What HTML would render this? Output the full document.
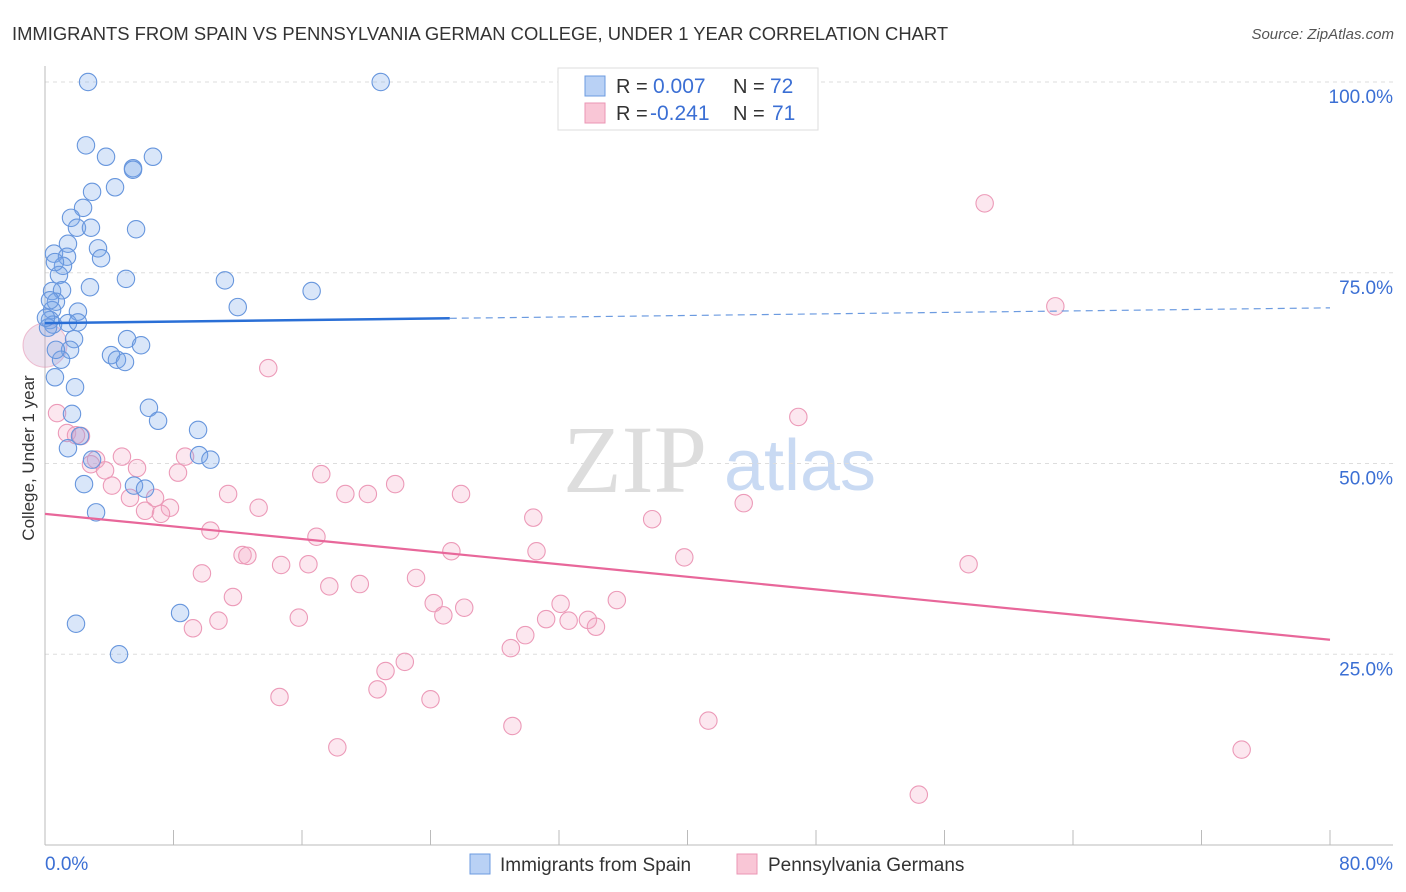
<!DOCTYPE html>
<html><head><meta charset="utf-8"><style>
body{margin:0;background:#fff;font-family:"Liberation Sans",sans-serif;}
</style></head><body>
<svg id="chart" width="1406" height="892" style="display:block">
<text x="12" y="40" font-size="18.4" fill="#333">IMMIGRANTS FROM SPAIN VS PENNSYLVANIA GERMAN COLLEGE, UNDER 1 YEAR CORRELATION CHART</text>
<text x="1394" y="39" font-size="15" fill="#555" font-style="italic" text-anchor="end">Source: ZipAtlas.com</text>
<text x="34" y="458" font-size="17" fill="#333" transform="rotate(-90 34 458)" text-anchor="middle">College, Under 1 year</text>
<g>
<text x="635" y="492" font-size="96" fill="#ddd" font-family="Liberation Serif,serif" text-anchor="middle">ZIP</text>
<text x="800" y="490" font-size="72" fill="#c9daf3" text-anchor="middle">atlas</text>
</g>
<g id="grid"></g><g id="marks"></g><g id="lines"></g>
<g>
<rect x="558" y="68" width="260" height="62" fill="#fff" stroke="#ddd"/>
<rect x="585" y="76" width="20" height="20" fill="#b9d1f5" stroke="#6c9be0"/>
<rect x="585" y="103" width="20" height="20" fill="#f9c6d6" stroke="#eb96b4"/>
<text x="616" y="93" font-size="20" fill="#333">R =</text>
<text x="653" y="93" font-size="21" fill="#3b6fd4">0.007</text>
<text x="733" y="93" font-size="20" fill="#333">N =</text>
<text x="770" y="93" font-size="21" fill="#3b6fd4">72</text>
<text x="616" y="120" font-size="20" fill="#333">R =</text>
<text x="650" y="120" font-size="21" fill="#3b6fd4">-0.241</text>
<text x="733" y="120" font-size="20" fill="#333">N =</text>
<text x="772" y="120" font-size="21" fill="#3b6fd4">71</text>
</g>
<g>
<rect x="470" y="854" width="20" height="20" fill="#b9d1f5" stroke="#6c9be0"/>
<text x="500" y="871" font-size="19" fill="#333">Immigrants from Spain</text>
<rect x="737" y="854" width="20" height="20" fill="#f9c6d6" stroke="#eb96b4"/>
<text x="768" y="871" font-size="19" fill="#333">Pennsylvania Germans</text>
</g>
</svg>
<script>
const blueX=[2.68,20.9,2.55,3.8,6.72,5.48,5.48,4.36,2.93,2.37,1.62,1.99,2.86,5.67,1.43,3.3,0.56,1.37,3.49,1.12,0.87,5.04,11.2,2.8,0.44,1.06,16.6,0.68,12.0,2.05,0.44,0.31,0.5,1.43,2.05,0.19,5.11,1.81,5.98,1.56,4.11,4.48,4.98,1.0,0.62,1.87,6.47,7.04,1.68,9.53,2.18,1.43,9.59,10.3,2.93,2.43,5.54,6.23,3.18,8.41,1.93,4.61,0.31,0.62,0.68,0.06];
const blueY=[100,100,91.7,90.2,90.2,88.7,88.5,86.2,85.6,83.5,82.2,80.9,80.9,80.7,78.8,78.2,77.5,77.1,76.9,75.9,74.7,74.2,74.0,73.1,72.6,72.7,72.6,71.2,70.5,69.9,70.1,68.8,68.2,68.4,68.5,67.8,66.3,66.3,65.5,64.9,64.2,63.6,63.3,63.6,61.3,60.0,57.3,55.6,56.5,54.4,53.6,52.0,51.1,50.5,50.5,47.3,47.1,46.7,43.6,30.4,29.0,25.0,71.4,76.4,64.9,69.1];
const pinkX=[0.75,1.37,2.24,1.93,4.79,3.18,2.86,3.74,5.73,8.72,8.28,4.17,5.29,6.85,7.78,6.23,7.22,11.4,13.3,10.3,17.2,13.9,18.7,20.1,21.8,25.9,30.4,30.6,25.3,16.9,12.3,12.6,9.77,11.7,14.7,16.4,17.7,19.6,23.1,24.2,24.8,26.1,15.8,10.8,9.21,29.9,29.0,31.2,32.1,32.6,33.8,34.3,35.6,22.4,21.2,20.7,14.6,24.0,29.1,18.2,41.3,37.8,39.8,43.5,46.9,57.5,58.5,62.9,54.4,74.5];
const pinkY=[56.6,54.0,53.6,53.7,50.9,50.5,49.9,49.1,49.4,50.9,48.8,47.1,45.5,45.5,44.2,43.8,43.4,46.0,44.2,41.2,48.6,62.5,46.0,46.0,47.3,46.0,42.9,38.5,38.5,40.4,38.0,37.9,35.6,32.5,36.7,36.8,33.9,34.2,35.0,31.7,30.1,31.1,29.8,29.4,28.4,27.5,25.8,29.6,31.6,29.4,29.5,28.6,32.1,24.0,22.8,20.4,19.4,19.1,15.6,12.8,16.3,42.7,37.7,44.8,56.1,36.8,84.1,70.6,6.6,12.5];
const blueTrend=[68.4,70.4];
const pinkTrend=[43.4,26.9];
const yTicks=[25,50,75,100];
const xTicks=[0,8,16,24,32,40,48,56,64,72,80];
const NS='http://www.w3.org/2000/svg';
const sx=v=>45+v/80*1285, sy=v=>845-v/100*763;
function mk(tag,attrs,parent){const e=document.createElementNS(NS,tag);for(const k in attrs)e.setAttribute(k,attrs[k]);parent.appendChild(e);return e;}
const grid=document.getElementById('grid'),marks=document.getElementById('marks'),lines=document.getElementById('lines');
yTicks.forEach(t=>{
 const l=mk('line',{x1:45,x2:1393,y1:sy(t),y2:sy(t),stroke:'#ddd','stroke-dasharray':'4 4'},grid);
 
 
 const tx=mk('text',{x:1393,y:sy(t)+21,'font-size':19,fill:'#3b6fd4','text-anchor':'end'},grid);tx.textContent=t.toFixed(1)+'%';
 
 
});
const ax=mk('line',{x1:45,x2:1393,y1:845,y2:845,stroke:'#bbb'},grid);


const ay=mk('line',{x1:45,x2:45,y1:66,y2:845,stroke:'#bbb'},grid);


xTicks.forEach(t=>{if(t>0){const tk=mk('line',{x1:sx(t),x2:sx(t),y1:830,y2:845,stroke:'#bbb'},grid);
 
 }});
const xl0=mk('text',{x:45,y:870,'font-size':19,fill:'#3b6fd4'},grid);xl0.textContent='0.0%';


const xl1=mk('text',{x:1393,y:870,'font-size':19,fill:'#3b6fd4','text-anchor':'end'},grid);xl1.textContent='80.0%';


const big=mk('circle',{cx:sx(0),cy:sy(65.5),r:22,fill:'rgba(200,160,200,0.3)',stroke:'rgba(230,150,180,0.6)'},marks);


pinkX.forEach((x,i)=>{const c=mk('circle',{cx:sx(x),cy:sy(pinkY[i]),r:8.7,fill:'rgba(246,170,196,0.28)',stroke:'#ec9ab8','stroke-width':1.1},marks);
 
 });
blueX.forEach((x,i)=>{const c=mk('circle',{cx:sx(x),cy:sy(blueY[i]),r:8.7,fill:'rgba(120,165,235,0.28)',stroke:'#6796dd','stroke-width':1.1},marks);
 
 });
const bAt=v=>blueTrend[0]+(blueTrend[1]-blueTrend[0])*v/80;
const b1=mk('line',{x1:sx(0),y1:sy(bAt(0)),x2:sx(25.2),y2:sy(bAt(25.2)),stroke:'#2a6fd6','stroke-width':2.5},lines);


const b2=mk('line',{x1:sx(25.2),y1:sy(bAt(25.2)),x2:sx(80),y2:sy(bAt(80)),stroke:'#6c9be0','stroke-width':1.2,'stroke-dasharray':'7 5'},lines);


const p1=mk('line',{x1:sx(0),y1:sy(pinkTrend[0]),x2:sx(80),y2:sy(pinkTrend[1]),stroke:'#e8679a','stroke-width':2.2},lines);


</script>
</body></html>
